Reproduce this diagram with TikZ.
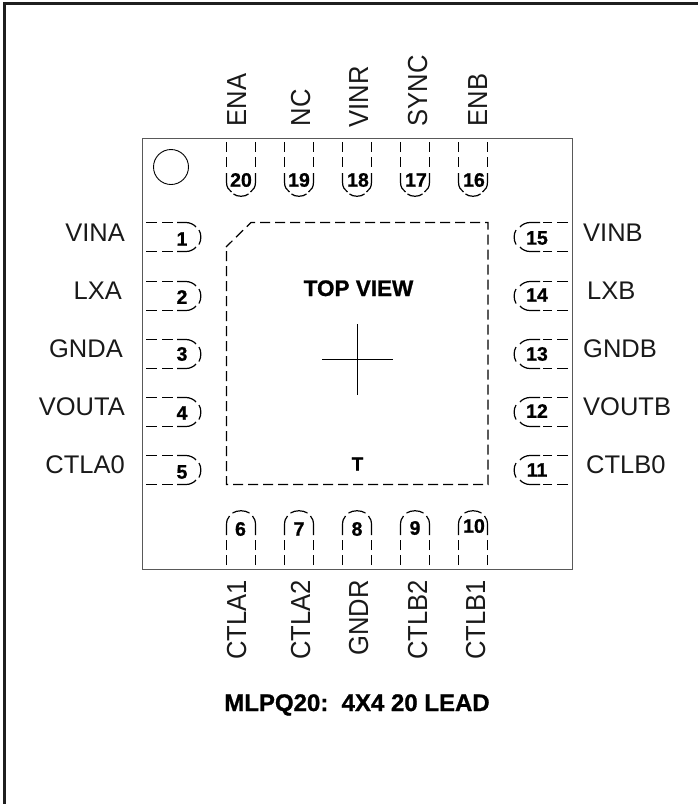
\documentclass[tikz,border=0pt]{standalone}
\usepackage{fontspec}
\setmainfont{Liberation Sans}
\newfontfamily\heavy{Liberation Sans Bold}[FakeBold=1]
\begin{document}
\begin{tikzpicture}[x=1pt,y=-1pt,
  lbl/.style={font=\fontsize{25.5}{28}\selectfont,inner sep=0pt,text=black!90},
  vlbl/.style={font=\fontsize{27.5}{30}\selectfont,inner sep=0pt,text=black!90,rotate=90},
  num/.style={font=\fontsize{19.5}{21}\heavy\selectfont,inner sep=0pt},
  dsh/.style={line width=1.2pt,dash pattern=on 10pt off 5pt},
  arcline/.style={line width=1.2pt},
  title/.style={font=\fontsize{22.5}{25}\heavy\selectfont,inner sep=0pt},
  captiontext/.style={font=\fontsize{24}{26}\heavy\selectfont,inner sep=0pt}]
\useasboundingbox (0,0) rectangle (698,804);
\draw[line width=3pt,color=black!88] (4.5,804) -- (4.5,3) -- (698,3);
\draw[line width=1.1pt,color=black!65] (142.5,138.5) rectangle (572.5,569.5);
\node[circle,draw,line width=0.9pt,minimum size=35pt,inner sep=0pt] (dot) at (171,167) {};
% paddle
\draw[line width=1.2pt,dash pattern=on 10pt off 5pt] (226.5,251) -- (226.5,484.5) -- (488,484.5) -- (488,222.5) -- (251,222.5) -- (226,247);
\draw[line width=0.9pt] (322,359.5) -- (393,359.5) (357.5,324) -- (357.5,395);
\node[title,anchor=base] (tv) at (358.5,296) {TOP VIEW};
\node[font=\fontsize{19}{21}\heavy\selectfont,inner sep=0pt,anchor=base] (tt) at (357.5,470.5) {T};
\node[captiontext,anchor=base] (cap) at (357,711) {MLPQ20:\ \ 4X4 20 LEAD};
% top pins
\foreach \x/\nx/\n/\ax/\ay/\t in {226.5/241/20/246/126.5/ENA,284.5/299/19/310/126.5/NC,342.5/358/18/368/127.5/VINR,400.5/416/17/427/126.5/SYNC,458.5/474/16/487/126.5/ENB}{
  \draw[dsh] (\x,142) -- (\x,167) (\x+29,142) -- (\x+29,167);
  \draw[arcline] (\x,173) -- (\x,182) .. controls (\x,187) and (\x+2,190) .. (\x+5,192);
  \draw[arcline] (\x+29,173) -- (\x+29,182) .. controls (\x+29,187) and (\x+27,190) .. (\x+24,192);
  \draw[arcline] (\x+7,194) .. controls (\x+11,197) and (\x+18,197) .. (\x+22,194);
  \node[num] (n\n) at (\nx,180) {\n};
  \node[vlbl,anchor=base west] (l\n) at (\ax,\ay) {\scalebox{.93}[1]{\t}};
}
% bottom pins
\foreach \x/\nx/\ny/\n/\ax/\t in {226.5/240.5/529/6/246/CTLA1,284.5/299/529/7/310/CTLA2,342.5/357/529/8/368/GNDR,400.5/415/528/9/427/CTLB2,458.5/474/526/10/485/CTLB1}{
  \draw[dsh] (\x,565) -- (\x,540) (\x+29,565) -- (\x+29,540);
  \draw[arcline] (\x,535) -- (\x,525) .. controls (\x,521) and (\x+1,518) .. (\x+3,516);
  \draw[arcline] (\x+29,535) -- (\x+29,525) .. controls (\x+29,521) and (\x+28,518) .. (\x+26,516);
  \draw[arcline] (\x+6,513) .. controls (\x+11,510) and (\x+18,510) .. (\x+23,513);
  \node[num] (n\n) at (\nx,\ny) {\n};
  \node[vlbl,anchor=base east] (l\n) at (\ax,580) {\scalebox{.93}[1]{\t}};
}
% left pins
\foreach \y/\ny/\n/\t in {222.5/239/1/VINA,281.5/297/2/LXA,339.5/354/3/GNDA,397.5/413/4/VOUTA,455.5/472/5/CTLA0}{
  \draw[line width=1.2pt,dash pattern=on 11pt off 5pt] (146,\y) -- (173,\y) (146,\y+29) -- (173,\y+29);
  \draw[arcline] (177,\y) -- (186,\y) .. controls (190,\y) and (194,\y+2) .. (196,\y+4.5);
  \draw[arcline] (177,\y+29) -- (186,\y+29) .. controls (190,\y+29) and (194,\y+27) .. (196,\y+24.5);
  \draw[arcline] (199,\y+7.5) .. controls (201.5,\y+12) and (201.5,\y+17) .. (199,\y+22);
  \node[num] (n\n) at (182,\ny) {\n};
}
\node[lbl,anchor=base east] (lVINA) at (125,241.5) {VINA};
\node[lbl,anchor=base east] (lLXA) at (122,299.5) {LXA};
\node[lbl,anchor=base east] (lGNDA) at (123,357) {GNDA};
\node[lbl,anchor=base east] (lVOUTA) at (125,415.5) {VOUTA};
\node[lbl,anchor=base east] (lCTLA) at (125,473.5) {CTLA0};
% right pins
\foreach \y/\ny/\n in {222.5/238/15,281.5/295/14,339.5/354/13,397.5/411/12,455.5/470/11}{
  \draw[line width=1.2pt,dash pattern=on 11pt off 5pt] (568,\y) -- (543,\y) (568,\y+29) -- (543,\y+29);
  \draw[arcline] (540,\y) -- (530,\y) .. controls (526,\y) and (522,\y+2) .. (520,\y+4.5);
  \draw[arcline] (540,\y+29) -- (530,\y+29) .. controls (526,\y+29) and (522,\y+27) .. (520,\y+24.5);
  \draw[arcline] (516,\y+7.5) .. controls (513.5,\y+12) and (513.5,\y+17) .. (516,\y+22);
  \node[num] (n\n) at (537,\ny) {\n};
}
\node[lbl,anchor=base west] (lVINB) at (583,241.5) {VINB};
\node[lbl,anchor=base west] (lLXB) at (587,299.5) {LXB};
\node[lbl,anchor=base west] (lGNDB) at (583,357) {GNDB};
\node[lbl,anchor=base west] (lVOUTB) at (583,415.5) {VOUTB};
\node[lbl,anchor=base west] (lCTLB) at (586,473.5) {CTLB0};
\end{tikzpicture}
\end{document}
